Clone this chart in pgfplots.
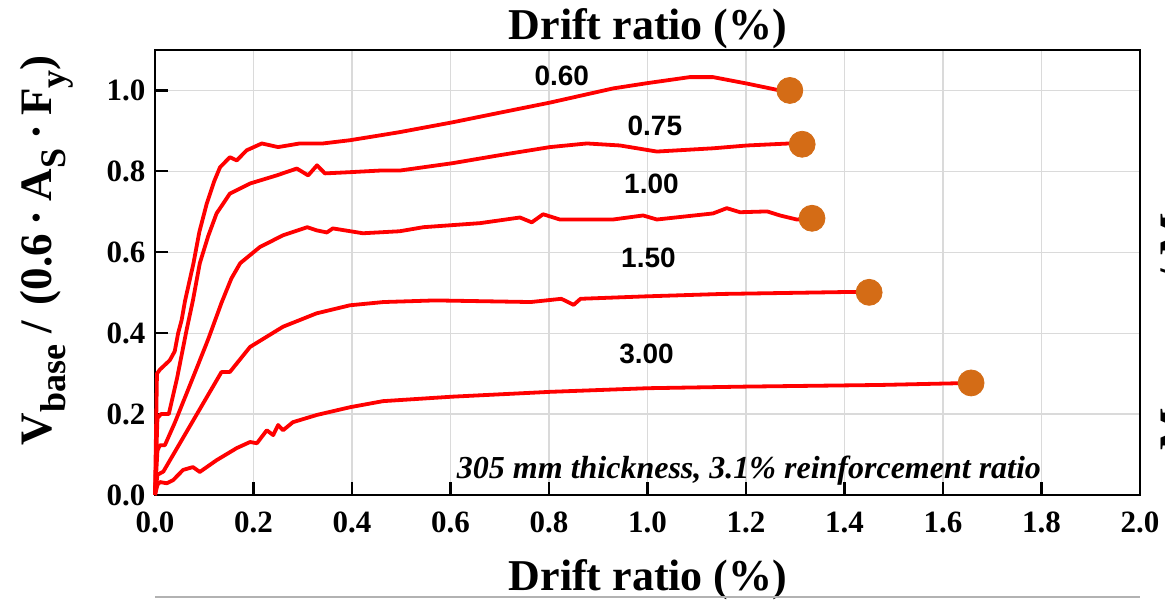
\documentclass[border=0pt]{standalone}
\usepackage{fontspec}
\setmainfont{Liberation Serif}
\newfontfamily\arialfont{Liberation Sans}
\usepackage{pgfplots}
\pgfplotsset{compat=1.18}
\definecolor{curvered}{RGB}{255,0,0}
\definecolor{dotorange}{RGB}{212,108,22}
\definecolor{gridgray}{RGB}{218,218,218}
\begin{document}
\begin{tikzpicture}[x=1pt,y=1pt]
\useasboundingbox (-77.5,-52.5) rectangle (505,247.5);
\begin{axis}[
 at={(0,0)}, anchor=south west,
 scale only axis, width=492.5pt, height=222.5pt,
 xmin=0, xmax=2, ymin=0, ymax=1.1,
 xtick={0,0.2,0.4,0.6,0.8,1.0,1.2,1.4,1.6,1.8,2.0},
 ytick={0,0.2,0.4,0.6,0.8,1.0},
 xtick pos=bottom, ytick pos=left, tick align=inside,
 major tick length=6.5pt,
 every tick/.style={black, line width=1.1pt},
 axis line style={line width=1.1pt},
 grid=major, major grid style={gridgray, line width=0.6pt},
 /pgf/number format/fixed,
 /pgf/number format/fixed zerofill,
 /pgf/number format/precision=1,
 /pgf/number format/assume math mode=true,
 ticklabel style={font=\fontsize{15.5}{15.5}\selectfont\bfseries},
 xticklabel style={yshift=-5pt},
 yticklabel style={xshift=-1.3pt},
 clip=false,
]
% 0.60
\addplot[curvered, line width=1.9pt, line join=round] coordinates {
(0,0) (0.004,0.30) (0.01,0.31) (0.03,0.333) (0.04,0.355) (0.047,0.40) (0.054,0.432)
(0.061,0.48) (0.078,0.572) (0.09,0.65) (0.105,0.72) (0.12,0.775) (0.132,0.81)
(0.152,0.835) (0.166,0.827) (0.186,0.852) (0.217,0.869) (0.25,0.86) (0.294,0.869)
(0.341,0.869) (0.396,0.877) (0.457,0.889) (0.497,0.897) (0.603,0.921) (0.70,0.945)
(0.802,0.97) (0.93,1.005) (0.999,1.018) (1.086,1.033) (1.133,1.033) (1.202,1.017)
(1.269,1.0) (1.289,1.0)};
% 0.75
\addplot[curvered, line width=1.9pt, line join=round] coordinates {
(0,0) (0.005,0.19) (0.012,0.2) (0.028,0.2) (0.045,0.29) (0.064,0.407) (0.077,0.481)
(0.091,0.573) (0.108,0.64) (0.125,0.696) (0.152,0.745) (0.193,0.77) (0.247,0.79)
(0.288,0.807) (0.311,0.79) (0.329,0.815) (0.345,0.795) (0.396,0.798) (0.457,0.802)
(0.497,0.802) (0.603,0.82) (0.70,0.84) (0.802,0.86) (0.877,0.869) (0.944,0.864)
(1.019,0.849) (1.133,0.857) (1.202,0.864) (1.289,0.869) (1.314,0.867)};
% 1.00
\addplot[curvered, line width=1.9pt, line join=round] coordinates {
(0,0) (0.005,0.11) (0.01,0.123) (0.02,0.123) (0.04,0.178) (0.077,0.29) (0.108,0.385)
(0.135,0.475) (0.155,0.535) (0.173,0.573) (0.213,0.613) (0.26,0.642) (0.309,0.662)
(0.329,0.654) (0.349,0.649) (0.361,0.659) (0.422,0.647) (0.497,0.652) (0.545,0.662)
(0.66,0.672) (0.741,0.686) (0.765,0.674) (0.788,0.694) (0.822,0.681) (0.93,0.681)
(0.991,0.691) (1.019,0.681) (1.133,0.696) (1.161,0.709) (1.188,0.699) (1.243,0.701)
(1.269,0.691) (1.303,0.681) (1.334,0.684)};
% 1.50
\addplot[curvered, line width=1.9pt, line join=round] coordinates {
(0,0) (0.005,0.05) (0.017,0.058) (0.135,0.304) (0.152,0.304) (0.193,0.366)
(0.26,0.416) (0.328,0.449) (0.396,0.469) (0.464,0.477) (0.569,0.481) (0.763,0.477)
(0.825,0.485) (0.85,0.47) (0.864,0.485) (0.996,0.491) (1.152,0.497) (1.416,0.502)
(1.45,0.502)};
% 3.00
\addplot[curvered, line width=1.9pt, line join=round] coordinates {
(0,0) (0.005,0.025) (0.01,0.032) (0.024,0.029) (0.037,0.037) (0.057,0.062) (0.077,0.069)
(0.091,0.057) (0.125,0.086) (0.166,0.116) (0.193,0.131) (0.207,0.128) (0.227,0.16)
(0.24,0.148) (0.25,0.173) (0.26,0.16) (0.28,0.18) (0.329,0.198) (0.396,0.217)
(0.463,0.232) (0.603,0.243) (0.802,0.255) (1.001,0.264) (1.202,0.268) (1.472,0.272)
(1.657,0.277)};
% end markers
\addplot[only marks, mark=*, mark size=6.5pt, mark options={fill=dotorange, draw=dotorange}] coordinates {
(1.289,1.0) (1.314,0.867) (1.334,0.684) (1.45,0.501) (1.657,0.277)};
% curve labels
\node[font=\arialfont\fontsize{14}{14}\selectfont\bfseries] at (axis cs:0.826,1.037) {0.60};
\node[font=\arialfont\fontsize{14}{14}\selectfont\bfseries] at (axis cs:1.015,0.912) {0.75};
\node[font=\arialfont\fontsize{14}{14}\selectfont\bfseries] at (axis cs:1.008,0.77) {1.00};
\node[font=\arialfont\fontsize{14}{14}\selectfont\bfseries] at (axis cs:1.002,0.585) {1.50};
\node[font=\arialfont\fontsize{14}{14}\selectfont\bfseries] at (axis cs:0.998,0.348) {3.00};
% annotation
\node[anchor=base, font=\fontsize{16}{16}\selectfont\bfseries\itshape] at (axis cs:1.206,0.042) {305 mm thickness, 3.1\% reinforcement ratio};
% titles
\node[anchor=base, font=\fontsize{22}{22}\selectfont\bfseries] at ([yshift=5pt]rel axis cs:0.5005,1) {Drift ratio (\%)};
\node[anchor=base, font=\fontsize{22}{22}\selectfont\bfseries] at ([yshift=-47.5pt]rel axis cs:0.5005,0) {Drift ratio (\%)};
\draw[gray!60, line width=0.8pt] ([yshift=-51pt]rel axis cs:0,0) -- ([yshift=-51pt]rel axis cs:1,0);
% y label
\node[rotate=90, anchor=north, inner sep=0pt, font=\fontsize{22.5}{22.5}\selectfont\bfseries]
 at (rel axis cs:-0.137,0.55)
 {V\raisebox{-0.3em}{\fontsize{18}{18}\selectfont base}\hspace{0.25em}/\hspace{0.35em}(0.6\hspace{0.2em}·\hspace{0.2em}A\raisebox{-0.3em}{\fontsize{18}{18}\selectfont S}\hspace{0.2em}·\hspace{0.2em}F\raisebox{-0.3em}{\fontsize{18}{18}\selectfont y})};
% right label (cut off at the picture's edge, as in the reference)
\node[rotate=90, anchor=north west, inner sep=0pt, font=\fontsize{22.5}{22.5}\selectfont\bfseries]
 at (rel axis cs:1.0203,0.1)
 {M\raisebox{-0.3em}{\fontsize{18}{18}\selectfont base}\hspace{1.3em}/\hspace{0.3em}M\raisebox{-0.3em}{\fontsize{18}{18}\selectfont n}};
\end{axis}
\end{tikzpicture}
\end{document}
